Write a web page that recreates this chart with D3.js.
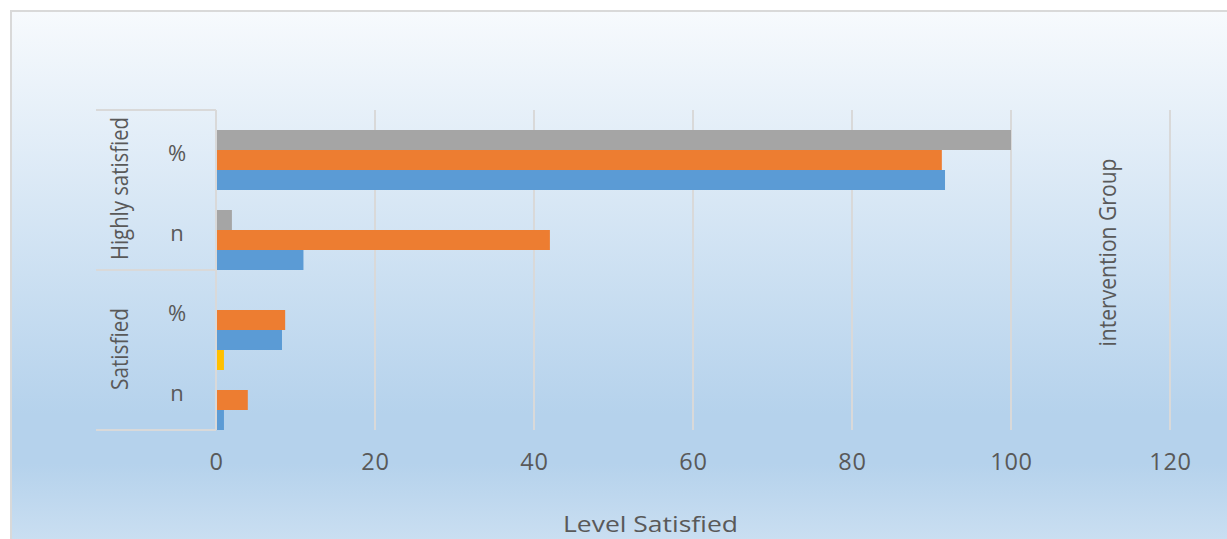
<!DOCTYPE html>
<html>
<head>
<meta charset="utf-8">
<script src="https://cdn.jsdelivr.net/npm/d3@7"></script>
<style>
  html, body { margin: 0; padding: 0; background: #ffffff; }
  svg { display: block; }
</style>
</head>
<body>
<svg id="chart" width="1227" height="539"></svg>
<script>
// ---- data ----
const categories = ["HS_pct", "HS_n", "S_pct", "S_n"];
const subLabels = ["%", "n", "%", "n"];
const groupLabels = ["Highly satisfied", "Satisfied"];
const seriesNames = ["Series1", "Series2", "Series3", "Series4"];
const series1 = [91.7, 11, 8.3, 1];   // blue
const series2 = [91.3, 42, 8.7, 4];   // orange
const series3 = [100, 2, 0, 0];       // gray
const series4 = [0, 0, 0, 1];         // yellow
const xTicks = [0, 20, 40, 60, 80, 100, 120];
const xTitle = "Level Satisfied";
const rightTitle = "intervention Group";

const seriesValues = [series1, series2, series3, series4];
const seriesColors = ["#5B9BD5", "#ED7D31", "#A5A5A5", "#FFC000"];

const svg = d3.select("#chart");

// background gradient (chart area)
const defs = svg.append("defs");
const grad = defs.append("linearGradient").attr("id", "bg")
  .attr("x1", 0).attr("y1", 0).attr("x2", 0).attr("y2", 1);
[[0, "#F7FAFD"], [0.74, "#B5D2EC"], [0.83, "#B5D2EC"], [1, "#CEE1F2"]]
  .forEach(([o, c]) => grad.append("stop").attr("offset", o).attr("stop-color", c));

svg.append("rect").attr("x", 11).attr("y", 11).attr("width", 1240).attr("height", 545)
  .attr("fill", "url(#bg)").attr("stroke", "#D9D9D9").attr("stroke-width", 2);

// scales
const x = d3.scaleLinear().domain([0, 120]).range([216, 1170]);
const y = d3.scaleBand().domain(categories).range([110, 430]).padding(0);
const ySub = d3.scaleBand().domain(seriesNames.slice().reverse()).range([0, y.bandwidth()]).padding(0);

const gridColor = "#D9D9D9";
const textColor = "#595959";

// gridlines
svg.append("g").selectAll("line").data(xTicks.filter(t => t !== 0)).join("line")
  .attr("x1", d => x(d)).attr("x2", d => x(d))
  .attr("y1", y.range()[0]).attr("y2", y.range()[1])
  .attr("stroke", gridColor).attr("stroke-width", 2);

// bars
const barG = svg.append("g");
seriesNames.forEach((s, si) => {
  barG.append("g").selectAll("rect")
    .data(categories.map((c, ci) => ({ c, v: seriesValues[si][ci] })).filter(d => d.v > 0))
    .join("rect")
    .attr("x", x(0))
    .attr("y", d => y(d.c) + ySub(s))
    .attr("width", d => x(d.v) - x(0))
    .attr("height", ySub.bandwidth())
    .attr("fill", seriesColors[si]);
});

// category axis lines
const axisG = svg.append("g").attr("stroke", gridColor).attr("stroke-width", 2);
axisG.append("line").attr("x1", x(0)).attr("x2", x(0))
  .attr("y1", y.range()[0]).attr("y2", y.range()[1]);
const bounds = [y(categories[0]), y(categories[2]), y(categories[3]) + y.bandwidth()];
axisG.selectAll("line.h").data(bounds).join("line").attr("class", "h")
  .attr("x1", 96).attr("x2", x(0)).attr("y1", d => d).attr("y2", d => d);

// sub category labels
svg.append("g").selectAll("text").data(categories).join("text")
  .attr("x", 177).attr("y", d => y(d) + y.bandwidth() / 2 + 2)
  .attr("text-anchor", "middle").attr("dominant-baseline", "central")
  .attr("font-family", "Open Sans, sans-serif").attr("font-size", 22)
  .attr("fill", textColor)
  .text((d, i) => subLabels[i]);

// group labels (rotated)
const groupCenters = [(bounds[0] + bounds[1]) / 2 - 1.5, (bounds[1] + bounds[2]) / 2 - 1];
const groupLens = [143, 82];
svg.append("g").selectAll("text").data(groupLabels).join("text")
  .attr("transform", (d, i) => `translate(118.5,${groupCenters[i]}) rotate(-90)`)
  .attr("text-anchor", "middle").attr("dominant-baseline", "central")
  .attr("font-family", "Open Sans, sans-serif").attr("font-size", 23)
  .attr("textLength", (d, i) => groupLens[i]).attr("lengthAdjust", "spacingAndGlyphs")
  .attr("fill", textColor)
  .text(d => d);

// x axis tick labels
const xAxis = d3.axisBottom(x).tickValues(xTicks).tickSize(0).tickPadding(23);
const xg = svg.append("g").attr("transform", `translate(0,${y.range()[1]})`).call(xAxis);
xg.select(".domain").remove();
xg.selectAll("text").attr("font-family", "Open Sans, sans-serif").attr("font-size", 23.5)
  .attr("fill", textColor).attr("letter-spacing", 0.8);

// x axis title
svg.append("text").attr("x", 650.5).attr("y", 532)
  .attr("text-anchor", "middle")
  .attr("font-family", "Open Sans, sans-serif").attr("font-size", 22)
  .attr("textLength", 175).attr("lengthAdjust", "spacingAndGlyphs")
  .attr("fill", textColor).text(xTitle);

// right title (rotated)
svg.append("text")
  .attr("transform", "translate(1107,252.5) rotate(-90)")
  .attr("text-anchor", "middle").attr("dominant-baseline", "central")
  .attr("font-family", "Open Sans, sans-serif").attr("font-size", 23)
  .attr("textLength", 188).attr("lengthAdjust", "spacingAndGlyphs")
  .attr("fill", textColor).text(rightTitle);
</script>
</body>
</html>
